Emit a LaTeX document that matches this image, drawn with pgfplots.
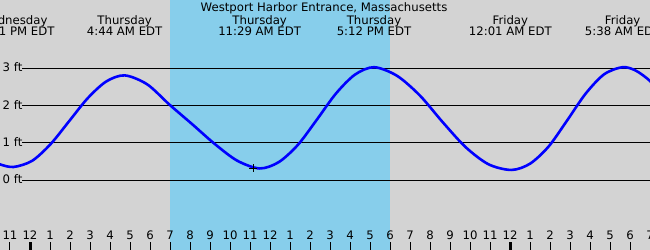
\documentclass[border=0pt]{standalone}
\usepackage{fontspec}
\setmainfont{DejaVu Sans}
\usepackage{pgfplots}
\pgfplotsset{compat=1.18}
\definecolor{bg}{RGB}{211,211,211}
\definecolor{day}{RGB}{135,206,235}
\begin{document}
\fontsize{11.7pt}{13pt}\selectfont
\begin{tikzpicture}
\begin{axis}[
 scale only axis, width=650pt, height=250pt,
 xmin=-1.5, xmax=31, ymin=-1.880, ymax=4.835,
 axis background/.style={fill=bg},
 axis x line*=bottom, axis y line*=left, axis line style={draw=none},
 axis on top,
 xtick={-1,0,...,31},
 xticklabels={11,12,1,2,3,4,5,6,7,8,9,10,11,12,1,2,3,4,5,6,7,8,9,10,11,12,1,2,3,4,5,6,7},
 tick align=inside, major tick length=8pt,
 xtick style={black, line width=1pt},
 xticklabel style={anchor=base, yshift=10pt, inner sep=0pt},
 extra x ticks={0,24}, extra x tick labels={},
 extra x tick style={xtick style={black, line width=3pt}},
 ytick={0,1,2,3}, yticklabels={0 ft,1 ft,2 ft,3 ft},
 ytick style={draw=none},
 yticklabel style={anchor=base west, inner sep=0pt, xshift=2.5pt, yshift=-3.5pt},
]
% daylight band
\addplot[fill=day, draw=none] coordinates {(6.975,-1.88) (17.975,-1.88) (17.975,4.835) (6.975,4.835)} -- cycle;
% level lines
\addplot[black, line width=1pt] coordinates {(-0.4,0) (31,0)};
\addplot[black, line width=1pt] coordinates {(-0.4,1) (31,1)};
\addplot[black, line width=1pt] coordinates {(-0.4,2) (31,2)};
\addplot[black, line width=1pt] coordinates {(-0.4,3) (31,3)};
% tide curve
\addplot[blue, line width=2.6pt, smooth] coordinates {
 (-2,0.55) (-1.5,0.42) (-0.82,0.35) (0.106,0.515) (1.031,0.965) (1.957,1.58) (2.882,2.195) (3.808,2.645) (4.733,2.81)
 (5.858,2.57) (6.983,2.02) (8.108,1.50) (9.233,0.97) (10.358,0.52) (11.483,0.31)
 (12.436,0.48) (13.389,0.94) (14.342,1.62) (15.294,2.32) (16.247,2.83) (17.2,3.03)
 (18.347,2.80) (19.493,2.27) (20.64,1.55) (21.787,0.88) (22.933,0.42) (24.08,0.27)
 (25.006,0.44) (25.931,0.90) (26.857,1.60) (27.782,2.32) (28.708,2.84) (29.633,3.03)
 (30.3,2.935) (31,2.66) (31.5,2.34)};
% current time marker
\addplot[only marks, mark=+, mark size=4pt, black, line width=1pt] coordinates {(11.15,0.31)};
% texts
\node[anchor=base] at (axis cs:14.7,4.521) {Westport Harbor Entrance, Massachusetts};
\node[anchor=base] at (axis cs:-0.82,4.19) {Wednesday};
\node[anchor=base] at (axis cs:-0.82,3.868) {11:11 PM EDT};
\node[anchor=base] at (axis cs:4.733,4.19) {Thursday};
\node[anchor=base] at (axis cs:4.733,3.868) {4:44 AM EDT};
\node[anchor=base] at (axis cs:11.483,4.19) {Thursday};
\node[anchor=base] at (axis cs:11.483,3.868) {11:29 AM EDT};
\node[anchor=base] at (axis cs:17.2,4.19) {Thursday};
\node[anchor=base] at (axis cs:17.2,3.868) {5:12 PM EDT};
\node[anchor=base] at (axis cs:24.017,4.19) {Friday};
\node[anchor=base] at (axis cs:24.017,3.868) {12:01 AM EDT};
\node[anchor=base] at (axis cs:29.633,4.19) {Friday};
\node[anchor=base] at (axis cs:29.633,3.868) {5:38 AM EDT};
\end{axis}
\pgfresetboundingbox
\path (current axis.south west) rectangle (current axis.north east);
\end{tikzpicture}
\end{document}
